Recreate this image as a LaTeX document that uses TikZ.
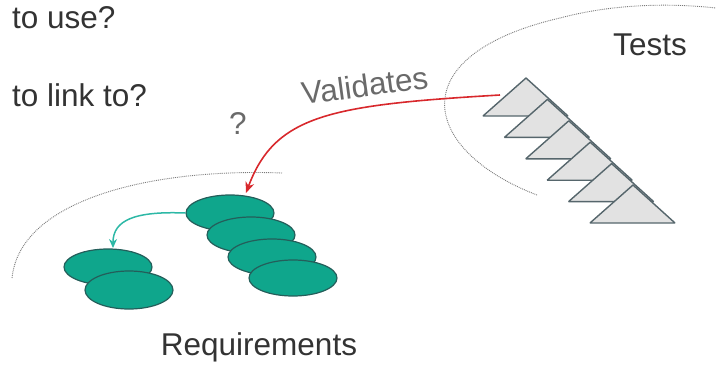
\documentclass[tikz,border=0pt]{standalone}
\usepackage{fontspec}
\setmainfont{Liberation Sans}
\usetikzlibrary{shapes.geometric,arrows.meta,calc}
\definecolor{txt}{HTML}{333333}
\definecolor{lbl}{HTML}{6A6A6A}
\definecolor{teal1}{HTML}{0FA68C}
\definecolor{tealedge}{HTML}{245E5A}
\definecolor{tealarrow}{HTML}{2DB8A6}
\definecolor{redarrow}{HTML}{D8282C}
\definecolor{trifill}{HTML}{E2E2E2}
\definecolor{triedge}{HTML}{56666C}
\definecolor{scope}{HTML}{7A7A7A}
\tikzset{
  big/.style={font=\fontsize{31.5}{38}\selectfont, inner sep=0pt},
  req/.style={ellipse, draw=tealedge, fill=teal1, line width=1.2pt,
              minimum width=88pt, minimum height=36pt, inner sep=0pt},
  testtri/.style={draw=triedge, fill=trifill, line width=1.4pt, line join=bevel},
  boundary/.style={draw=scope, densely dotted, line width=0.9pt},
}
\begin{document}
\begin{tikzpicture}[x=1pt,y=-1pt]
\useasboundingbox (0,0) rectangle (716,365);

% question texts
\node[big, text=txt, anchor=base west] (q1) at (12,28) {to use?};
\node[big, text=txt, anchor=base west] (q2) at (12,106) {to link to?};

% scope boundaries
\draw[boundary] (537,195) .. controls (420,150) and (400,55) .. (560,18)
                .. controls (620,2) and (680,4) .. (716,8);
\draw[boundary] (12,278) .. controls (20,200) and (150,168) .. (282,173);

% test stack
\foreach \i in {0,...,5} {
  \coordinate (t\i) at ({526+21.4*\i},{78+21.4*\i});
  \path[testtri] (t\i) -- ++(-43,38) -- ++(85,0) -- cycle;
}
\node[big, text=txt, anchor=base] (tests) at (650,55) {Tests};

% requirement stacks
\node[req] (r1) at (230,213) {};
\node[req] (r2) at (251,235) {};
\node[req] (r3) at (272,257) {};
\node[req] (r4) at (293,278) {};
\node[req] (l1) at (108,267) {};
\node[req, minimum height=38pt] (l2) at (129,290) {};
\node[big, text=txt, anchor=base] (reqs) at (259,355) {Requirements};

% links
\coordinate (vstart) at (500,95);
\coordinate (vend) at (246,193);
\draw[redarrow, line width=1.6pt, -{Stealth[length=11pt,width=9pt]}]
  (vstart) .. controls (330,105) and (275,115) .. (vend);
\node[big, text=lbl, anchor=base west, rotate=7.7] (val) at (303,105) {Validates};
\node[big, text=lbl, anchor=base] (qm) at (238,134) {?};

\coordinate (lend) at (113,248);
\draw[tealarrow, line width=1.5pt, -{Stealth[length=9pt,width=8pt]}]
  (r1.west) .. controls (135,211) and (113,220) .. (lend);
\end{tikzpicture}
\end{document}
